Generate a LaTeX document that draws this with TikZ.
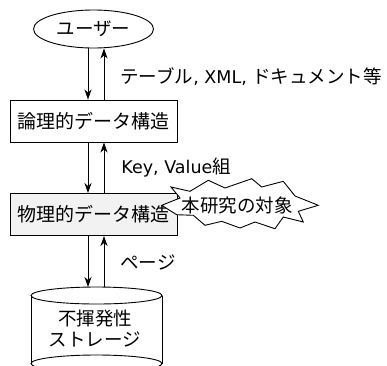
\documentclass[tikz,border=0pt]{standalone}
\usepackage{fontspec}
\setmainfont{DejaVu Sans}
\newfontfamily\jpfont{Noto Sans CJK JP}
\usetikzlibrary{arrows.meta,shapes.geometric}
\newcommand{\jtext}[1]{{\fontsize{18.5pt}{22pt}\jpfont #1}}
\begin{document}
\begin{tikzpicture}[x=1pt,y=-1pt,line width=0.9pt,
  arr/.style={-{Stealth[length=10pt,width=7pt,inset=3pt]}},
  databox/.style={draw,minimum width=167pt,minimum height=42pt,inner sep=0pt,
    font=\fontsize{19pt}{22pt}\jpfont},
  lbl/.style={anchor=west,inner sep=0pt,font=\fontsize{17.5pt}{21pt}\selectfont},
  jpl/.style={inner sep=0pt,font=\fontsize{18.5pt}{22pt}\jpfont}]
\useasboundingbox (0,0) rectangle (387,365);
% user
\node[draw,ellipse,minimum width=120pt,minimum height=38pt,inner sep=0pt,jpl] (user) at (93.5,29) {ユーザー};
% boxes
\node[databox,fill=white] (box1) at (93.5,121) {論理的データ構造};
\node[databox,fill=black!5] (box2) at (93.5,214.5) {物理的データ構造};
% storage cylinder
\draw (31,295.5) -- (31,363.5);
\draw (162,295.5) -- (162,363.5);
\draw (96.5,295.5) ellipse [x radius=65.5pt,y radius=8.5pt];
\draw (96.5,363.5) ellipse [x radius=65.5pt,y radius=8.5pt];
\coordinate (cyltop) at (96.5,287);
\node[jpl,align=center,font=\fontsize{18.5pt}{21.5pt}\jpfont] (storage) at (95,328.5) {不揮発性\\ストレージ};
% arrows
\draw[arr] ([xshift=-5.5pt]user.south) -- ([xshift=-5.5pt]box1.north);
\draw[arr] ([xshift=10.5pt]box1.north) -- ([xshift=10.5pt]user.south);
\draw[arr] ([xshift=-5.5pt]box1.south) -- ([xshift=-5.5pt]box2.north);
\draw[arr] ([xshift=10.5pt]box2.north) -- ([xshift=10.5pt]box1.south);
\draw[arr] ([xshift=-5.5pt]box2.south) -- ([xshift=-5.5pt]box2.south |- cyltop);
\draw[arr] ([xshift=10.5pt]box2.south |- cyltop) -- ([xshift=10.5pt]box2.south);
% labels
\node[lbl] (l1) at (120,77) {\jtext{テーブル}, XML, \jtext{ドキュメント等}};
\node[lbl] (l2) at (121,168) {Key, Value\jtext{組}};
\node[lbl] (l3) at (120,262) {\jtext{ページ}};
% starburst
\draw[fill=white] (161.7,205.3) -- (180,198) -- (171,187) -- (190,191.3) -- (208.3,180.3)
  -- (225,188) -- (251.7,178.7) -- (261.7,187) -- (283.3,181.3) -- (295,196)
  -- (318.3,205.3) -- (298.3,211.3) -- (303.3,222) -- (283.3,217) -- (275,228.7)
  -- (255,222) -- (240,228) -- (221.7,221.3) -- (205,225.3) -- (193.3,215.3)
  -- (176.7,214.7) -- cycle;
\node[jpl] (target) at (237,205) {本研究の対象};
\end{tikzpicture}
\end{document}
